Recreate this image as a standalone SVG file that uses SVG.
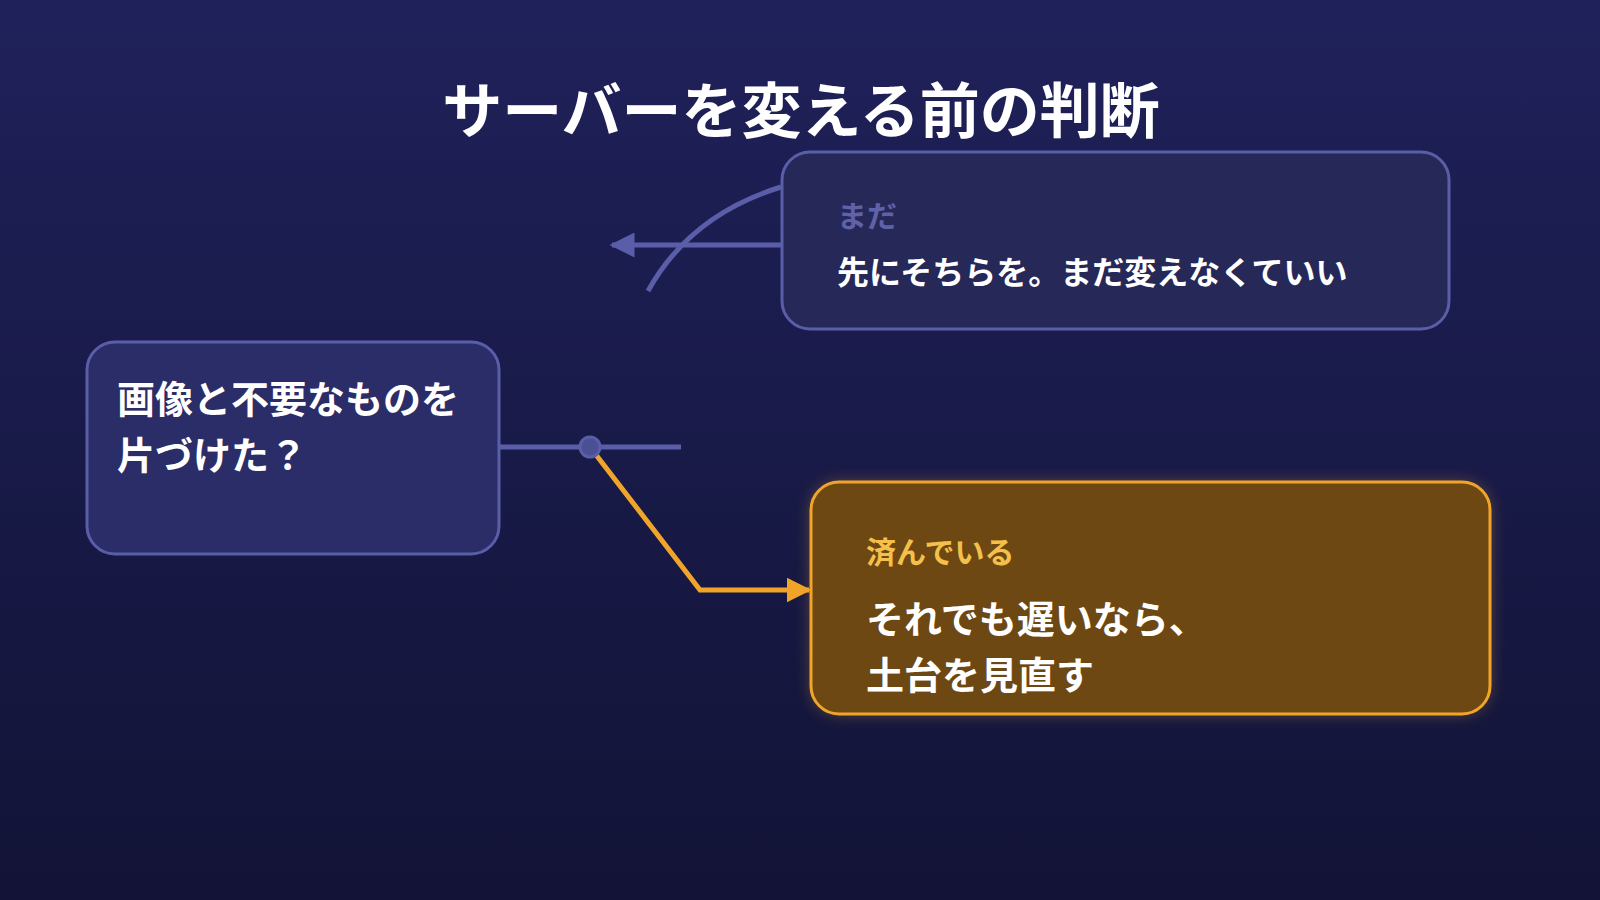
<svg xmlns="http://www.w3.org/2000/svg" width="1600" height="900" viewBox="0 0 1600 900">
<defs>
<linearGradient id="bg" x1="0" y1="0" x2="0" y2="1"><stop offset="0" stop-color="#1f215a"/><stop offset="1" stop-color="#121336"/></linearGradient>
<filter id="glow" x="-10%" y="-15%" width="120%" height="130%"><feGaussianBlur stdDeviation="8"/></filter>
<marker id="ap" viewBox="0 0 10 10" refX="9" refY="5" markerWidth="5" markerHeight="5" orient="auto"><path d="M0,0L10,5L0,10z" fill="#5a5ea8"/></marker>
<marker id="ao" viewBox="0 0 10 10" refX="9" refY="5" markerWidth="5" markerHeight="5" orient="auto"><path d="M0,0L10,5L0,10z" fill="#f0a52a"/></marker>
</defs>
<style>
text{font-family:"Noto Sans CJK JP","Noto Sans",sans-serif;font-weight:bold;fill:#fff}
.lab{font-size:30px}
.big{font-size:38px}
.mid{font-size:32px}
</style>
<rect width="1600" height="900" fill="url(#bg)"/>
<text x="801" y="133" font-size="60" text-anchor="middle">サーバーを変える前の判断</text>
<g id="connectors" fill="none" stroke-width="5">
<path d="M781,187 Q690,215 648,291" stroke="#5a5ea8"/>
<path d="M782,245 L612,245" stroke="#5a5ea8" marker-end="url(#ap)"/>
<path d="M499,447 L681,447" stroke="#5a5ea8"/>
<path d="M590,447 L700,590 L809,590" stroke="#f0a52a" marker-end="url(#ao)"/>
<circle cx="590" cy="447" r="10" fill="#4b4f94" stroke="#5a5ea8" stroke-width="3"/>
</g>
<g id="node-top">
<rect x="782" y="152" width="667" height="177" rx="28" fill="#262858" stroke="#5a5ea8" stroke-width="3"/>
<text x="837" y="227" class="lab" fill="#5f62a8" style="fill:#5f62a8">まだ</text>
<text x="837" y="284" class="mid">先にそちらを。まだ変えなくていい</text>
</g>
<g id="node-left">
<rect x="87" y="342" width="412" height="212" rx="28" fill="#2a2d68" stroke="#5a5ea8" stroke-width="3"/>
<text x="117" y="413" class="big">画像と不要なものを</text>
<text x="117" y="469" class="big">片づけた？</text>
</g>
<g id="node-done">
<rect x="811" y="482" width="679" height="232" rx="28" fill="#f0a52a" opacity="0.35" filter="url(#glow)"/>
<rect x="811" y="482" width="679" height="232" rx="28" fill="#6e4813" stroke="#f0a52a" stroke-width="3"/>
<text x="866" y="563" class="lab" style="fill:#f5c04a">済んでいる</text>
<text x="866" y="633" class="big">それでも遅いなら、</text>
<text x="866" y="689" class="big">土台を見直す</text>
</g>
</svg>
